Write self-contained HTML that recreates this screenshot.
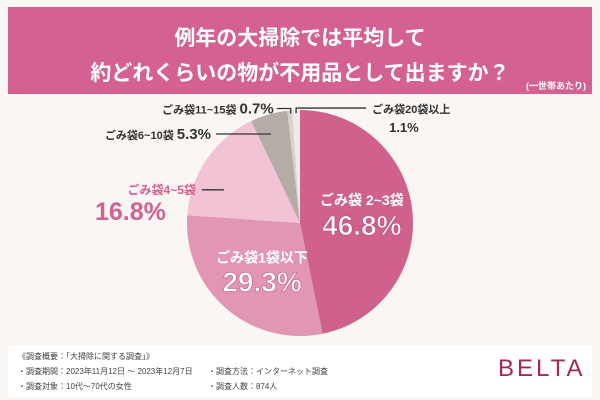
<!DOCTYPE html>
<html><head><meta charset="utf-8"><style>
body{margin:0;width:600px;height:400px;background:#faf6f3;font-family:"Liberation Sans","Noto Sans CJK JP",sans-serif;overflow:hidden;position:relative}
.hd{position:absolute;left:8px;top:7px;width:584px;height:87px;background:#d46191;color:#fff;text-align:center}
.t{position:absolute;left:0;width:100%;font-size:21px;font-weight:bold}
.ft{position:absolute;left:8px;top:345px;width:584px;height:52px;background:#fff;font-size:8px;color:#444}
.ft div{position:absolute;white-space:nowrap}
</style></head><body>
<div class="hd">
<div class="t" style="top:15px">例年の大掃除では平均して</div>
<div class="t" style="top:50px">約どれくらいの物が不用品として出ますか？</div>
<div style="position:absolute;right:6px;top:72px;font-size:9px;font-weight:bold">(一世帯あたり)</div>
</div>
<svg id="chart" width="600" height="400" style="position:absolute;left:0;top:0"></svg>
<div class="ft">
<div style="left:10px;top:6px">《調査概要：「大掃除に関する調査」》</div>
<div style="left:10px;top:21px">・調査期間：2023年11月12日 ～ 2023年12月7日</div>
<div style="left:200px;top:21px">・調査方法：インターネット調査</div>
<div style="left:10px;top:36px">・調査対象：10代～70代の女性</div>
<div style="left:200px;top:36px">・調査人数：874人</div>
<div style="left:490px;top:10px;font-size:24px;color:#a4265a;letter-spacing:3px">BELTA</div>
</div>
<script>
const categories=["ごみ袋2~3袋","ごみ袋1袋以下","ごみ袋4~5袋","ごみ袋6~10袋","ごみ袋11~15袋","ごみ袋20袋以上"];
const values=[46.8,29.3,16.8,5.3,0.7,1.1];
const colors=["#d0618c","#e196b4","#f2c3d4","#b5aca8","#d8d1cd","#efebe8"];
const svg=document.getElementById('chart');const NS="http://www.w3.org/2000/svg";
const cx=300,cy=223,r=113;
const total=values.reduce((a,b)=>a+b,0);
function pt(a,rr){return [cx+rr*Math.sin(a),cy-rr*Math.cos(a)];}
let acc=0;const mids=[];
values.forEach((v,i)=>{
 const a0=acc/total*2*Math.PI;acc+=v;const a1=acc/total*2*Math.PI;mids.push((a0+a1)/2);
 const p0=pt(a0,r),p1=pt(a1,r);
 const p=document.createElementNS(NS,'path');
 p.setAttribute('d',`M${cx},${cy}L${p0[0]},${p0[1]}A${r},${r} 0 ${a1-a0>Math.PI?1:0} 1 ${p1[0]},${p1[1]}Z`);
 p.setAttribute('fill',colors[i]);
 
 
 svg.appendChild(p);
});
function txt(x,y,s,size,fill,anchor,extra){const t=document.createElementNS(NS,'text');t.setAttribute('x',x);t.setAttribute('y',y);t.setAttribute('font-size',size);t.setAttribute('fill',fill);t.setAttribute('text-anchor',anchor||'start');t.setAttribute('font-weight','bold');if(extra)for(const k in extra)t.setAttribute(k,extra[k]);t.textContent=s;


svg.appendChild(t);return t;}
function line(pts){const l=document.createElementNS(NS,'polyline');l.setAttribute('points',pts.map(p=>p.join(',')).join(' '));l.setAttribute('fill','none');l.setAttribute('stroke','#333');l.setAttribute('stroke-width','1.3');


svg.appendChild(l);}
const pct=i=>values[i].toFixed(1)+'%';
// inner labels
let m=pt(mids[0],r*0.55);
txt(m[0],m[1]-12,categories[0].replace('袋','袋 '),14,'#fff','middle');
txt(m[0],m[1]+18,pct(0),28,'#fff','middle',{stroke:'#c04f7c','stroke-width':'0.8'});
m=pt(mids[1],r*0.55);
txt(m[0]+3,m[1]-7,categories[1],14,'#fff','middle');
txt(m[0]+3,m[1]+22,pct(1),28,'#fff','middle',{stroke:'#c86d93','stroke-width':'0.8'});
// outer labels
let e=pt(mids[2],r*0.9);
const y4=e[1]+24;
line([[e[0]+8,y4],[e[0]-14,y4]]);
txt(e[0]-20,y4+4,categories[2],12,'#d46191','end');
txt(95,y4+30,pct(2),25,'#d46191','start');
e=pt(mids[3],r*0.93);
line([[e[0],e[1]+12],[e[0]-55,e[1]+12]]);
txt(e[0]-60,e[1]+17,'',11,'#333','end').innerHTML=categories[3]+' <tspan font-size="15">'+pct(3)+'</tspan>';
e=pt(mids[4],r);
line([[e[0]+1,e[1]+3],[e[0]+1,e[1]-2],[e[0]-13,e[1]-2]]);
txt(e[0]-16,e[1]+3,'',11,'#333','end').innerHTML=categories[4]+' <tspan font-size="15">'+pct(4)+'</tspan>';
e=pt(mids[5],r);
line([[e[0],e[1]+3],[e[0],e[1]-2],[e[0]+70,e[1]-2]]);
txt(e[0]+76,e[1]+3,categories[5],11,'#333','start');
txt(e[0]+93,e[1]+22,pct(5),13,'#333','start');
</script>
</body></html>
